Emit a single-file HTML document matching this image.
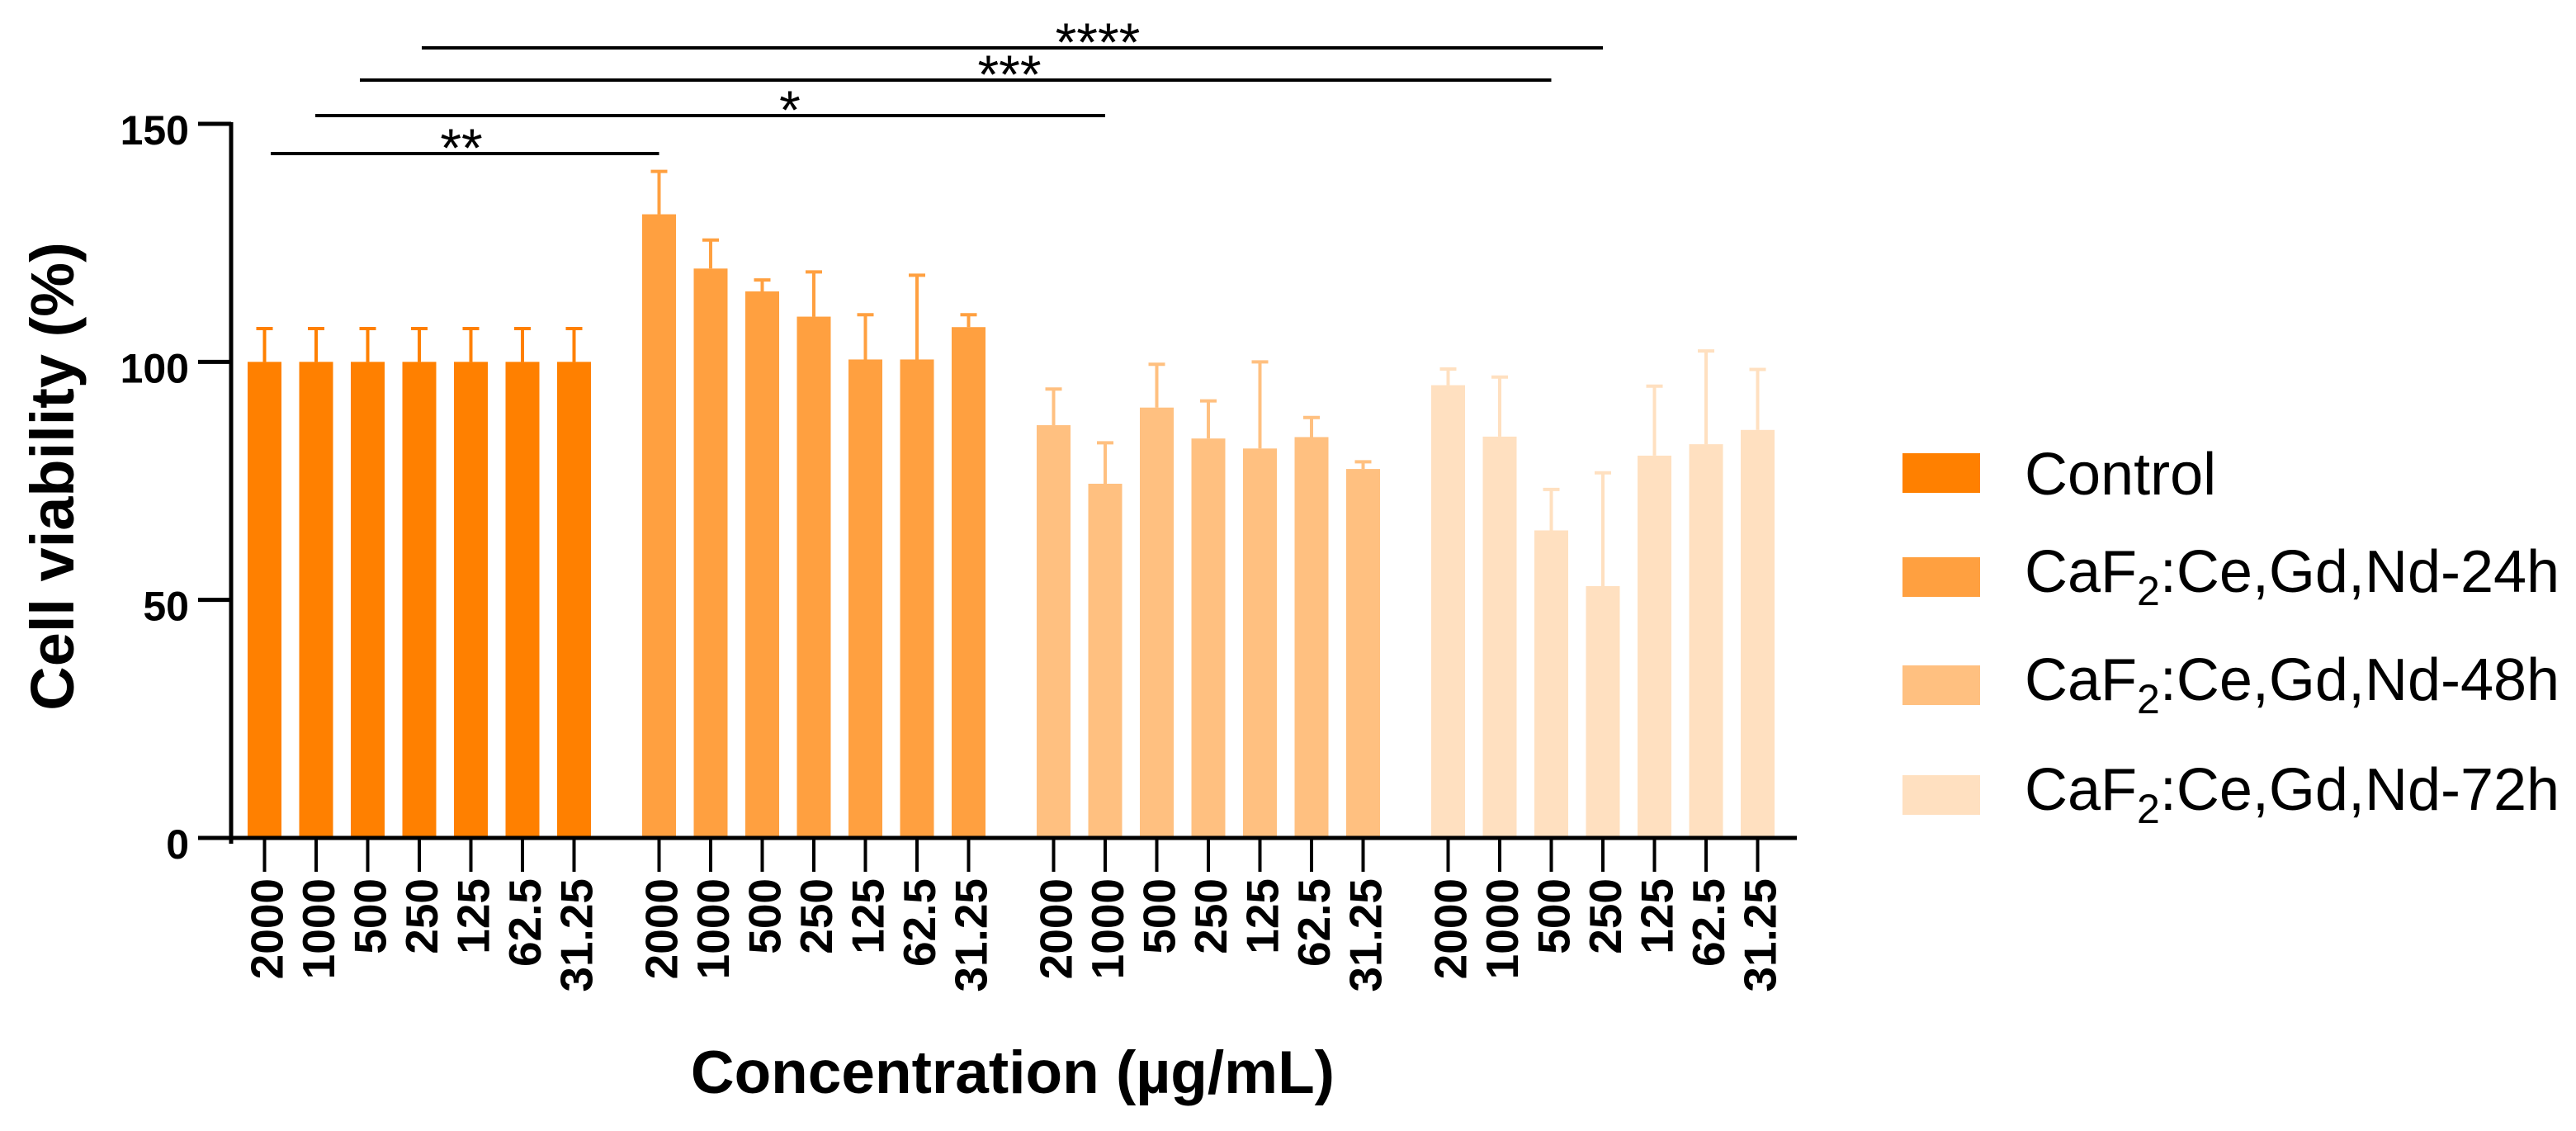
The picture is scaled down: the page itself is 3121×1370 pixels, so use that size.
<!DOCTYPE html>
<html><head><meta charset="utf-8">
<style>html,body{margin:0;padding:0;background:#fff;}svg{display:block;}</style>
</head><body>
<svg id="chart" width="3121" height="1370" viewBox="0 0 3121 1370" xmlns="http://www.w3.org/2000/svg" font-family="'Liberation Sans', Arial, sans-serif">
<g id="bars"></g>
<g id="axes"></g>
<g id="sig"></g>
<text transform="translate(89,577) rotate(-90)" text-anchor="middle" font-size="74" font-weight="bold">Cell viability (%)</text>
<text x="1617" y="1324" text-anchor="end" font-size="73" font-weight="bold">Concentration (µg/mL)</text>
<g id="legend"></g>
</svg>
<script>
const categories = ["2000","1000","500","250","125","62.5","31.25"];
const groups = ["Control","24h","48h","72h"];
const controlMeans = [100,100,100,100,100,100,100];
const controlErr = [107,107,107,107,107,107,107];
const h24Means = [131,119.6,114.8,109.5,100.5,100.5,107.3];
const h24Err = [140,125.6,117.2,118.9,109.9,118.2,109.9];
const h48Means = [86.7,74.4,90.4,83.9,81.8,84.2,77.5];
const h48Err = [94.3,83,99.5,91.8,100,88.3,79];
const h72Means = [95.1,84.3,64.6,52.9,80.3,82.7,85.7];
const h72Err = [98.5,96.8,73.2,76.7,94.9,102.3,98.4];
const yTicks = [0,50,100,150];
const colors = ["#FF8000","#FFA040","#FFC080","#FFE0C0"];
const means = [controlMeans,h24Means,h48Means,h72Means];
const errs = [controlErr,h24Err,h48Err,h72Err];
const legendLabels = ["Control","24h","48h","72h"];
const sigLabels = ["**","*","***","****"];
const sigTo = [[1,0],[2,1],[3,2],[3,3]];

const NS="http://www.w3.org/2000/svg";
const y0=1015, yScale=(1015-150)/150;
function yPx(v){return y0 - v*yScale;}
function xPx(g,i){return 300 + g*478 + i*62.5;}
const BW=41;
function mk(tag,attrs,parent){const e=document.createElementNS(NS,tag);for(const k in attrs)e.setAttribute(k,attrs[k]);parent.appendChild(e);return e;}
const bars=document.getElementById('bars'),axes=document.getElementById('axes'),sig=document.getElementById('sig'),legend=document.getElementById('legend');

means.forEach((arr,g)=>{arr.forEach((v,i)=>{
  const x=xPx(g,i);
  const r=mk('rect',{x:x,y:yPx(v),width:BW,height:y0-yPx(v),fill:colors[g]},bars);
  
  
  const cx=x+BW/2, ey=yPx(errs[g][i]);
  const l=mk('path',{d:`M${cx},${yPx(v)}V${ey}M${cx-10},${ey}H${cx+10}`,stroke:colors[g],'stroke-width':4,fill:'none'},bars);
  
  
  const t=mk('line',{x1:cx,x2:cx,y1:y0,y2:1056,stroke:'#000','stroke-width':4},axes);
  
  
  const tx=mk('text',{transform:`translate(${cx+22},1064) rotate(-90)`,'text-anchor':'end','font-size':55,'font-weight':'bold'},axes);
  tx.textContent=categories[i];
  
  
});});

const ax=mk('path',{d:`M280,${yPx(150)-2}V1022M278,${y0}H2177`,stroke:'#000','stroke-width':5,fill:'none'},axes);


yTicks.forEach(v=>{
  const t=mk('line',{x1:240,x2:280,y1:yPx(v),y2:yPx(v),stroke:'#000','stroke-width':5},axes);
  
  
  const tx=mk('text',{x:229,y:yPx(v)+25,'text-anchor':'end','font-size':50,'font-weight':'bold'},axes);
  tx.textContent=v;
  
  
});

const sigY=[186,140,97,58];
const sigX1=[328,382,436,511];
const sigTextX=[559,957,1223,1330];
sigLabels.forEach((s,k)=>{
  const x2=xPx(sigTo[k][0],sigTo[k][1])+BW/2;
  const l=mk('line',{x1:sigX1[k],x2:x2,y1:sigY[k],y2:sigY[k],stroke:'#000','stroke-width':4},sig);
  
  
  const t=mk('text',{x:sigTextX[k],y:sigY[k]+16,'text-anchor':'middle','font-size':66},sig);
  t.textContent=s;
  
  
});

const legY=[549,675,806,939];
legendLabels.forEach((lab,k)=>{
  const r=mk('rect',{x:2305,y:legY[k],width:94,height:48,fill:colors[k]},legend);
  
  
  const t=mk('text',{x:2453,y:legY[k]+(k===0?50:42),'font-size':72},legend);
  
  
  if(k===0){t.textContent=lab;}
  else{
    t.appendChild(document.createTextNode('CaF'));
    const s=mk('tspan',{'font-size':50,dy:16},t);s.textContent='2';
    const r2=mk('tspan',{dy:-16},t);r2.textContent=':Ce,Gd,Nd-'+lab;
  }
});
</script>
</body></html>
